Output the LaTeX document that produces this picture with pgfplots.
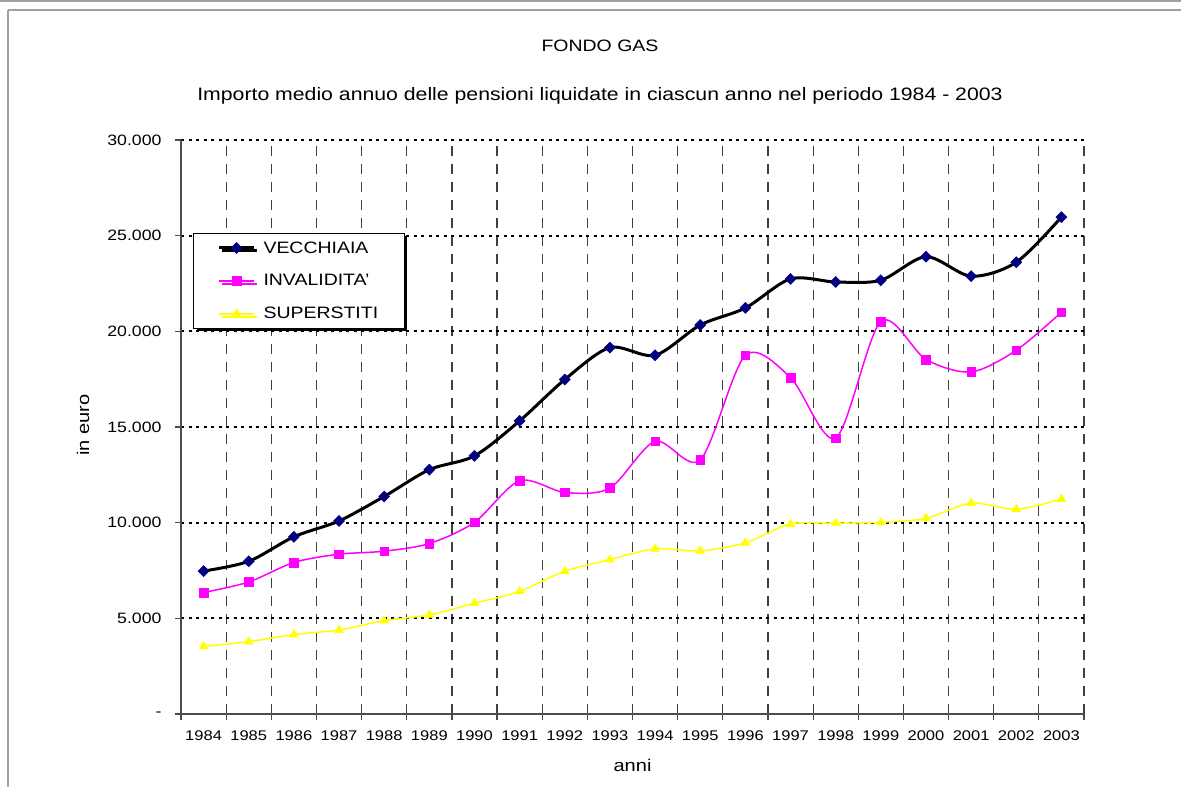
\documentclass[border=0pt]{standalone}
\usepackage{pgfplots}
\pgfplotsset{compat=1.18}
\usepackage{fontspec}
\setmainfont{Liberation Sans}[FakeStretch=1.18]
\usetikzlibrary{shadows}
\definecolor{navyb}{HTML}{000080}
\definecolor{magb}{HTML}{FF00FF}
\definecolor{yelb}{HTML}{FFFF00}
\definecolor{frameg}{HTML}{A0A0A0}
\begin{document}
\begin{tikzpicture}
\path[use as bounding box] (0pt,0pt) rectangle (1181pt,787pt);
\fill[white] (0pt,0pt) rectangle (1181pt,787pt);
\draw[frameg, line width=2pt] (0pt,786pt) -- (1181pt,786pt);
\draw[frameg, line width=2pt] (8pt,777pt) -- (1181pt,777pt);
\draw[frameg, line width=2pt] (8pt,777pt) -- (8pt,0pt);
\begin{axis}[
  at={(181pt,73pt)}, anchor=south west,
  scale only axis, width=903pt, height=574pt,
  xmin=-0.5, xmax=19.5, ymin=0, ymax=30000,
  scaled y ticks=false,
  axis x line*=bottom, axis y line*=left,
  axis line style={black!70, line width=1.2pt, -},
  xtick={0,...,19},
  xticklabels={1984,1985,1986,1987,1988,1989,1990,1991,1992,1993,1994,1995,1996,1997,1998,1999,2000,2001,2002,2003},
  major x tick style={draw=none},
  minor xtick={-0.5,0.5,...,19.5},
  minor x tick style={black!70, line width=1.2pt},
  minor tick length=6pt,
  xminorgrids=true,
  minor x grid style={black!75, line width=1.2pt, dash pattern=on 10pt off 8pt},
  ytick={0,5000,...,30000},
  yticklabels={-,5.000,10.000,15.000,20.000,25.000,30.000},
  ymajorgrids=true,
  major y grid style={black, line width=2pt, dash pattern=on 3pt off 4.5pt},
  major y tick style={black!70, line width=1.2pt},
  major tick length=6pt,
  tick align=outside,
  xticklabel style={font=\fontsize{14}{16}\selectfont, yshift=-7pt},
  yticklabel style={font=\fontsize{15}{17}\selectfont, xshift=-10pt},
  xlabel={anni}, ylabel={in euro},
  xlabel style={font=\fontsize{17}{20}\selectfont, at={(axis description cs:0.5,-0.0889)}, anchor=center},
  ylabel style={font=\fontsize{17}{20}\selectfont, at={(axis description cs:-0.1085,0.503)}, anchor=center, rotate=0},
  clip=false,
  legend style={at={(axis description cs:0.0133,0.8380)}, anchor=north west,
    draw=black, line width=1pt, fill=white,
    drop shadow={shadow xshift=3pt, shadow yshift=-3pt, opacity=1, fill=black},
    font=\fontsize{16.5}{19}\selectfont,
    inner xsep=24pt, inner ysep=6pt, row sep=16pt, column sep=6pt,
    nodes={inner sep=2pt}},
  legend cell align=left,
  legend image code/.code={\draw[mark repeat=2,mark phase=2] plot coordinates {(0pt,0pt) (17.5pt,0pt) (35pt,0pt)};},
]
\addplot[smooth, black, line width=3pt, mark=square*, mark size=3.9pt,
  mark options={rotate=45, fill=navyb, draw=navyb, line width=0.5pt}]
  coordinates {(0,7470) (1,7980) (2,9260) (3,10090) (4,11370) (5,12770) (6,13490) (7,15320) (8,17480) (9,19150) (10,18750) (11,20330) (12,21220) (13,22740) (14,22580) (15,22670) (16,23900) (17,22880) (18,23610) (19,25970)};
\addlegendentry{VECCHIAIA}
\addplot[smooth, magb, line width=1.5pt, mark=square*, mark size=4.3pt,
  mark options={fill=magb, draw=magb, line width=0.5pt}]
  coordinates {(0,6350) (1,6900) (2,7920) (3,8350) (4,8510) (5,8910) (6,10020) (7,12190) (8,11580) (9,11810) (10,14250) (11,13280) (12,18740) (13,17580) (14,14420) (15,20510) (16,18530) (17,17880) (18,19010) (19,21000)};
\addlegendentry{INVALIDITA'}
\addplot[smooth, yelb, line width=1.5pt, mark=triangle*, mark size=5pt,
  mark options={fill=yelb, draw=yelb, line width=0.5pt}]
  coordinates {(0,3530) (1,3780) (2,4150) (3,4390) (4,4880) (5,5180) (6,5790) (7,6410) (8,7460) (9,8070) (10,8630) (11,8530) (12,8950) (13,9930) (14,9970) (15,10020) (16,10230) (17,11020) (18,10700) (19,11230)};
\addlegendentry{SUPERSTITI}
\node[font=\fontsize{16.5}{19}\selectfont, anchor=center] at (axis description cs:0.464,1.1638) {FONDO GAS};
\node[font=\fontsize{18}{21}\selectfont, anchor=center] at (axis description cs:0.464,1.0767) {Importo medio annuo delle pensioni liquidate in ciascun anno nel periodo 1984 - 2003};
\end{axis}
\end{tikzpicture}
\end{document}
